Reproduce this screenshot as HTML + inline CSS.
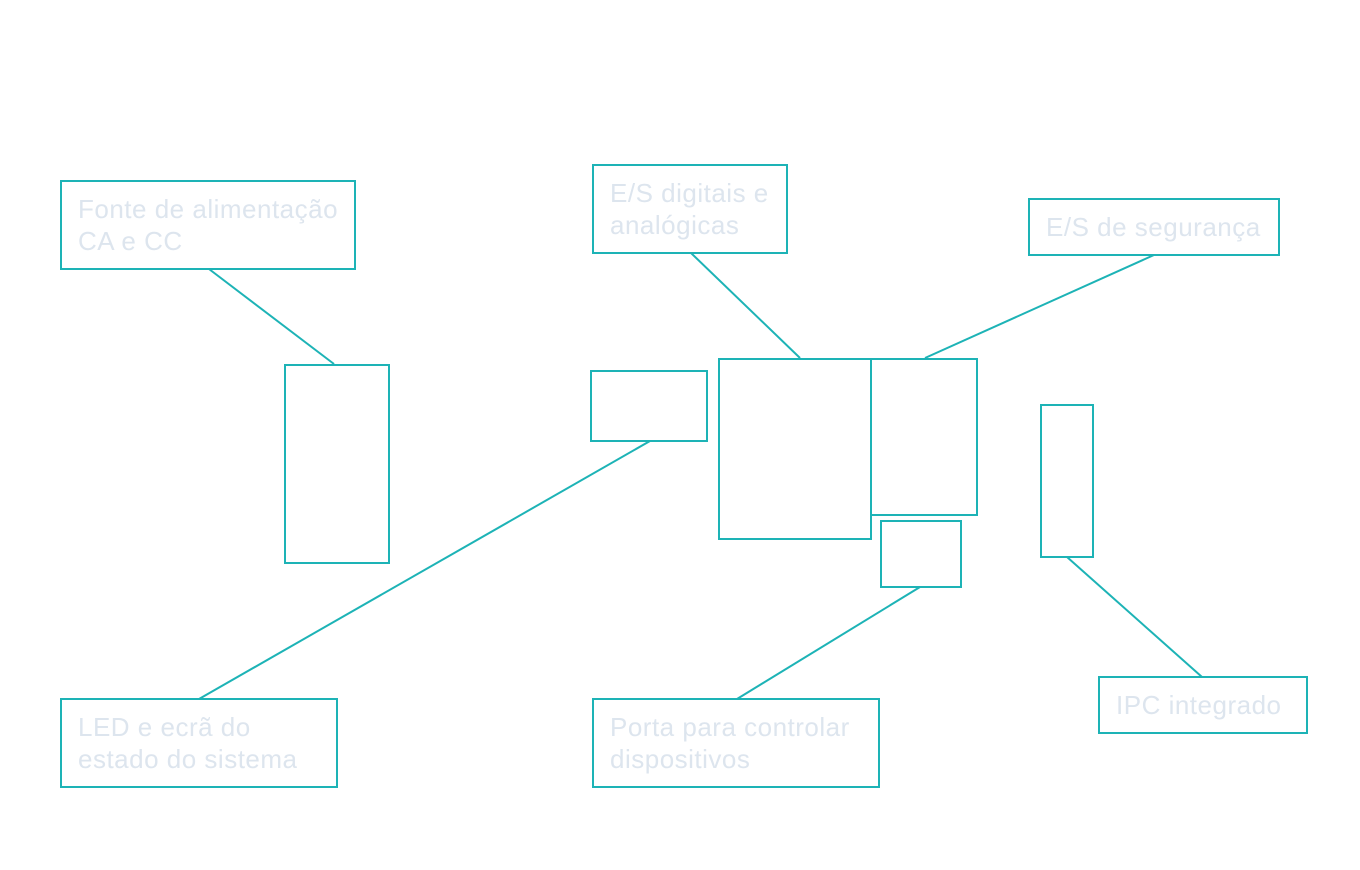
<!DOCTYPE html>
<html><head><style>html,body{margin:0;padding:0;background:#fff;}svg{display:block}</style></head>
<body>
<svg width="1360" height="870" xmlns="http://www.w3.org/2000/svg">
<g fill="none" stroke="#1db3b6" stroke-width="2">
<rect x="61" y="181" width="294" height="88"/>
<rect x="593" y="165" width="194" height="88"/>
<rect x="1029" y="199" width="250" height="56"/>
<rect x="61" y="699" width="276" height="88"/>
<rect x="593" y="699" width="286" height="88"/>
<rect x="1099" y="677" width="208" height="56"/>
<rect x="285" y="365" width="104" height="198"/>
<rect x="591" y="371" width="116" height="70"/>
<rect x="719" y="359" width="152" height="180"/>
<rect x="871" y="359" width="106" height="156"/>
<rect x="881" y="521" width="80" height="66"/>
<rect x="1041" y="405" width="52" height="152"/>
<line x1="209" y1="269" x2="334" y2="364"/>
<line x1="691" y1="253" x2="800" y2="358"/>
<line x1="1154" y1="255" x2="925" y2="358"/>
<line x1="650" y1="441" x2="199" y2="699"/>
<line x1="920" y1="587" x2="737" y2="699"/>
<line x1="1067" y1="557" x2="1202" y2="677"/>
</g>
<g fill="#dde5ee" font-family="Liberation Sans, sans-serif" font-size="26" letter-spacing="0.5">
<text x="78" y="218">Fonte de alimentação</text>
<text x="78" y="250">CA e CC</text>
<text x="610" y="202">E/S digitais e</text>
<text x="610" y="234">analógicas</text>
<text x="1046" y="236">E/S de segurança</text>
<text x="78" y="736">LED e ecrã do</text>
<text x="78" y="768">estado do sistema</text>
<text x="610" y="736">Porta para controlar</text>
<text x="610" y="768">dispositivos</text>
<text x="1116" y="714">IPC integrado</text>
</g>
</svg>
</body></html>
